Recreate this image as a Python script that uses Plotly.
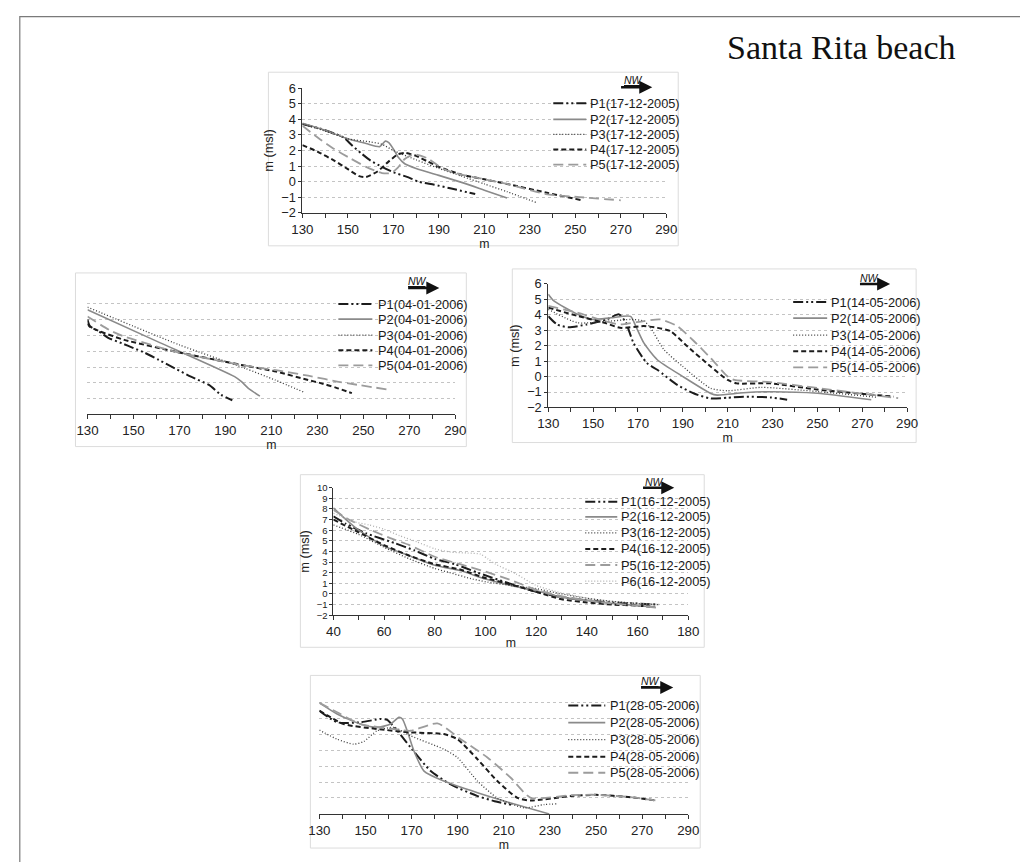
import plotly.graph_objects as go

# ---------------- Panel A: 17-12-2005 ----------------
A_P1_X = [130, 138, 144, 148, 152, 156, 160, 165, 170, 176, 181, 188, 195, 206]
A_P1_Y = [3.7, 3.4, 3.1, 2.85, 2.3, 1.8, 1.35, 0.95, 0.6, 0.3, 0.0, -0.2, -0.43, -0.8]
A_P2_X = [130, 140, 150, 158, 164, 166.5, 168, 170, 172, 175, 180, 190, 200, 210, 220]
A_P2_Y = [3.75, 3.3, 2.75, 2.45, 2.25, 2.6, 2.5, 2.1, 1.6, 1.15, 0.85, 0.4, -0.05, -0.55, -1.05]
A_P3_X = [130, 140, 150, 160, 165, 170, 180, 190, 200, 210, 220, 233]
A_P3_Y = [3.7, 3.25, 2.75, 2.55, 2.4, 2.0, 1.4, 0.85, 0.35, -0.15, -0.65, -1.35]
A_P4_X = [130, 137, 144, 150, 155, 158, 163, 168, 172, 175, 180, 185, 190, 200, 210, 220, 237, 253]
A_P4_Y = [2.35, 1.9, 1.35, 0.8, 0.35, 0.3, 0.65, 1.3, 1.75, 1.85, 1.65, 1.3, 0.95, 0.45, 0.15, -0.15, -0.7, -1.2]
A_P5_X = [130, 137, 144, 151, 158, 165, 169, 172, 175, 179, 185, 192, 200, 210, 220, 237, 252, 270]
A_P5_Y = [3.6, 2.8, 2.1, 1.5, 0.95, 0.55, 0.55, 0.9, 1.45, 1.75, 1.5, 0.8, 0.45, 0.15, -0.15, -0.8, -1.0, -1.2]

# ---------------- Panel B: 04-01-2006 ----------------
B_P1_X = [130, 131, 135, 139, 145, 150, 155, 161, 168, 175, 183, 188, 193]
B_P1_Y = [4.0, 3.6, 3.25, 2.85, 2.5, 2.2, 1.9, 1.45, 0.92, 0.39, -0.15, -0.75, -1.1]
B_P2_X = [130, 160, 194, 197, 200, 205]
B_P2_Y = [4.62, 2.64, 0.39, 0.07, -0.35, -0.84]
B_P3_X = [130, 170, 198.5, 211.6, 224.6]
B_P3_Y = [4.79, 2.4, 0.92, 0.18, -0.62]
B_P4_X = [130, 131, 135.5, 146, 168, 197, 212, 226, 231, 238, 245]
B_P4_Y = [3.74, 3.55, 3.25, 2.72, 1.98, 1.13, 0.71, 0.18, 0.0, -0.3, -0.65]
B_P5_X = [130, 140, 146, 168, 197, 212, 226, 240, 261]
B_P5_Y = [4.2, 3.3, 2.93, 1.98, 1.13, 0.8, 0.45, 0.05, -0.43]

# ---------------- Panel C: 14-05-2006 ----------------
C_P1_X = [130, 134, 139, 147, 156, 161.5, 164.5, 168, 174, 178.6, 187.5, 195, 202.4, 210, 217, 229, 236.5]
C_P1_Y = [3.91, 3.37, 3.2, 3.37, 3.7, 4.03, 3.53, 2.18, 0.87, 0.44, -0.54, -1.1, -1.42, -1.37, -1.31, -1.35, -1.5]
C_P2_X = [130, 132.5, 143, 150, 158, 166.7, 169, 172.6, 178.6, 190, 202.4, 205.3, 217, 229, 250, 274]
C_P2_Y = [5.34, 4.9, 4.04, 3.7, 3.81, 3.9, 3.27, 2.18, 1.09, 0.0, -1.09, -1.2, -1.05, -0.98, -1.08, -1.5]
C_P3_X = [130, 143, 158, 167, 172.6, 175.6, 181.6, 190, 202.4, 210, 225, 250, 277]
C_P3_Y = [4.36, 3.49, 3.6, 3.7, 3.6, 3.16, 1.74, 0.65, -0.76, -0.92, -0.7, -0.97, -1.35]
C_P4_X = [130, 143, 155, 162, 172.6, 178.6, 184.5, 192, 202.4, 210, 214, 229, 250, 284]
C_P4_Y = [4.47, 3.93, 3.49, 3.16, 3.27, 3.16, 2.94, 1.96, 0.65, -0.22, -0.44, -0.44, -0.84, -1.3]
C_P5_X = [130, 143, 155, 162, 172.6, 180, 187.5, 195, 202.4, 210, 213, 229, 250, 286]
C_P5_Y = [4.58, 4.14, 3.6, 3.38, 3.6, 3.7, 3.27, 2.29, 1.2, 0.0, -0.22, -0.36, -0.74, -1.4]

# ---------------- Panel D: 16-12-2005 ----------------
D_P1_X = [40, 45, 53, 64, 72, 80, 88, 97, 108, 120, 130, 140, 150, 160, 168]
D_P1_Y = [7.3, 6.6, 5.7, 4.8, 4.1, 3.3, 2.8, 2.0, 1.1, 0.2, -0.3, -0.6, -0.8, -0.9, -1.0]
D_P2_X = [40, 45, 50, 60, 70, 80, 90, 100, 110, 120, 130, 140, 150, 160, 167]
D_P2_Y = [8.1, 7.0, 6.0, 4.5, 3.6, 2.7, 2.2, 1.4, 0.8, 0.3, -0.3, -0.6, -0.9, -1.1, -1.2]
D_P3_X = [40, 50, 60, 70, 80, 86, 95, 100, 110, 120, 130, 140, 150, 160, 168]
D_P3_Y = [6.5, 5.6, 4.4, 3.3, 2.4, 2.0, 1.4, 1.15, 0.8, 0.5, 0.0, -0.4, -0.7, -0.9, -1.0]
D_P4_X = [40, 50, 60, 70, 80, 90, 100, 110, 120, 130, 140, 150, 160, 165]
D_P4_Y = [7.0, 5.8, 4.6, 3.6, 2.8, 2.3, 1.5, 0.9, 0.2, -0.5, -0.8, -1.0, -1.1, -1.2]
D_P5_X = [40, 47, 55, 62, 70, 80, 90, 100, 110, 120, 130, 140, 150, 160, 168]
D_P5_Y = [7.9, 6.9, 6.0, 5.3, 4.6, 3.5, 2.8, 2.1, 1.3, 0.4, -0.2, -0.6, -0.9, -1.1, -1.3]
D_P6_X = [40, 44, 48, 54, 60, 66, 73, 80, 86, 93, 98, 101, 104, 112, 120, 130, 140, 150, 160, 169]
D_P6_Y = [7.6, 7.2, 6.8, 6.5, 6.1, 5.5, 4.9, 4.25, 3.95, 3.85, 3.75, 3.3, 2.8, 1.9, 0.8, 0.1, -0.4, -0.7, -0.9, -1.0]

# ---------------- Panel E: 28-05-2006 ----------------
E_P1_X = [130, 137.7, 147.8, 156.5, 159.4, 163.8, 169.6, 178.3, 187, 198.6, 206, 214]
E_P1_Y = [4.48, 3.75, 3.75, 3.96, 3.9, 3.22, 2.17, 0.69, -0.15, -0.88, -1.2, -1.45]
E_P2_X = [130, 137.7, 147.8, 155, 160.9, 164.5, 166, 168.1, 171, 175.4, 184, 198.6, 213, 229.7]
E_P2_Y = [4.97, 4.27, 3.64, 3.43, 3.64, 4.06, 3.96, 3.22, 1.96, 0.69, 0.06, -0.67, -1.31, -2.0]
E_P3_X = [130, 137.7, 144.9, 149.3, 155, 162.3, 169.6, 184, 189.9, 198.6, 207.2, 218.8, 227.5, 233.3]
E_P3_Y = [3.26, 2.69, 2.38, 2.55, 3.22, 3.43, 2.9, 2.06, 1.54, 0.06, -1.0, -1.62, -1.41, -1.37]
E_P4_X = [130, 140.6, 155, 169.6, 184, 189.9, 198.6, 207.2, 215.9, 221.7, 239, 250, 265, 276]
E_P4_Y = [4.48, 3.64, 3.33, 3.12, 3.01, 2.69, 1.43, 0.06, -0.99, -1.16, -0.88, -0.8, -0.95, -1.16]
E_P5_X = [130, 137.7, 147.8, 162.3, 169.6, 181.2, 191.3, 202.9, 213, 221.7, 239, 250, 265, 276]
E_P5_Y = [4.97, 4.38, 3.64, 3.33, 3.22, 3.68, 2.69, 1.54, 0.27, -0.99, -0.82, -0.8, -0.95, -1.16]

A_NAMES = ["P1(17-12-2005)", "P2(17-12-2005)", "P3(17-12-2005)", "P4(17-12-2005)", "P5(17-12-2005)"]
B_NAMES = ["P1(04-01-2006)", "P2(04-01-2006)", "P3(04-01-2006)", "P4(04-01-2006)", "P5(04-01-2006)"]
C_NAMES = ["P1(14-05-2006)", "P2(14-05-2006)", "P3(14-05-2006)", "P4(14-05-2006)", "P5(14-05-2006)"]
D_NAMES = ["P1(16-12-2005)", "P2(16-12-2005)", "P3(16-12-2005)", "P4(16-12-2005)", "P5(16-12-2005)", "P6(16-12-2005)"]
E_NAMES = ["P1(28-05-2006)", "P2(28-05-2006)", "P3(28-05-2006)", "P4(28-05-2006)", "P5(28-05-2006)"]

TITLE = "Santa Rita beach"
X_TITLE = "m"
Y_TITLE = "m (msl)"

STYLE = {
    "P1": dict(color="#1c1c1c", width=2.0, dash="10px,3px,2px,3px,2px,3px"),
    "P2": dict(color="#8a8a8a", width=1.6, dash="solid"),
    "P3": dict(color="#3a3a3a", width=1.3, dash="1px,2px"),
    "P4": dict(color="#1c1c1c", width=2.0, dash="5px,3px"),
    "P5": dict(color="#9c9c9c", width=1.8, dash="10px,5px"),
    "P6": dict(color="#b0b0b0", width=1.3, dash="1px,2px"),
}

FONT = "Liberation Sans, Arial, sans-serif"
W, H = 1028, 862
# observed mapping from figure pixels to the photographed picture
SC, BX, BY = 0.979, 18.5, 16.0


def fx(px):
    return ((px - BX) / SC) / W


def fy(py):
    return 1 - ((py - BY) / SC) / H


panels = [
    dict(series=[(A_NAMES[0], A_P1_X, A_P1_Y, "P1"), (A_NAMES[1], A_P2_X, A_P2_Y, "P2"),
                 (A_NAMES[2], A_P3_X, A_P3_Y, "P3"), (A_NAMES[3], A_P4_X, A_P4_Y, "P4"),
                 (A_NAMES[4], A_P5_X, A_P5_Y, "P5")],
         xdom=(302, 666), ydom=(88, 212), xr=(130, 290), yr=(-2, 6), showy=True, yfs=12.8,
         box=(268, 72, 678, 245),
         leg=dict(x0=553, x1=586, xt=588, rows=[103, 119, 134, 149, 164]),
         nw=dict(tx=633, ty=80, x0=620, x1=652, y=87)),
    dict(series=[(B_NAMES[0], B_P1_X, B_P1_Y, "P1"), (B_NAMES[1], B_P2_X, B_P2_Y, "P2"),
                 (B_NAMES[2], B_P3_X, B_P3_Y, "P3"), (B_NAMES[3], B_P4_X, B_P4_Y, "P4"),
                 (B_NAMES[4], B_P5_X, B_P5_Y, "P5")],
         xdom=(87, 455), ydom=(287, 413), xr=(130, 290), yr=(-2, 6), showy=False, yfs=12.8,
         box=(75, 272, 466, 445),
         leg=dict(x0=338, x1=372, xt=376, rows=[303, 318, 334, 349, 364]),
         nw=dict(tx=417, ty=280, x0=407, x1=439, y=287)),
    dict(series=[(C_NAMES[0], C_P1_X, C_P1_Y, "P1"), (C_NAMES[1], C_P2_X, C_P2_Y, "P2"),
                 (C_NAMES[2], C_P3_X, C_P3_Y, "P3"), (C_NAMES[3], C_P4_X, C_P4_Y, "P4"),
                 (C_NAMES[4], C_P5_X, C_P5_Y, "P5")],
         xdom=(548, 907), ydom=(283, 406), xr=(130, 290), yr=(-2, 6), showy=True, yfs=12.8,
         box=(512, 268, 916, 441),
         leg=dict(x0=793, x1=827, xt=829, rows=[301, 317, 334, 350, 366]),
         nw=dict(tx=869, ty=277, x0=859, x1=890, y=283)),
    dict(series=[(D_NAMES[0], D_P1_X, D_P1_Y, "P1"), (D_NAMES[1], D_P2_X, D_P2_Y, "P2"),
                 (D_NAMES[2], D_P3_X, D_P3_Y, "P3"), (D_NAMES[3], D_P4_X, D_P4_Y, "P4"),
                 (D_NAMES[4], D_P5_X, D_P5_Y, "P5"), (D_NAMES[5], D_P6_X, D_P6_Y, "P6")],
         xdom=(333, 688), ydom=(486, 613), xr=(40, 180), yr=(-2, 10), showy=True, yfs=9.5,
         box=(300, 473, 704, 645),
         leg=dict(x0=585, x1=617, xt=619, rows=[500, 515, 531, 547, 563, 579]),
         nw=dict(tx=654, ty=480, x0=642, x1=674, y=486)),
    dict(series=[(E_NAMES[0], E_P1_X, E_P1_Y, "P1"), (E_NAMES[1], E_P2_X, E_P2_Y, "P2"),
                 (E_NAMES[2], E_P3_X, E_P3_Y, "P3"), (E_NAMES[3], E_P4_X, E_P4_Y, "P4"),
                 (E_NAMES[4], E_P5_X, E_P5_Y, "P5")],
         xdom=(319, 688), ydom=(684, 811), xr=(130, 290), yr=(-2, 6), showy=False, yfs=12.8,
         box=(310, 673, 700, 845),
         leg=dict(x0=568, x1=605, xt=608, rows=[703, 720, 737, 754, 770]),
         nw=dict(tx=650, ty=679, x0=640, x1=673, y=685)),
]

fig = go.Figure()
shapes = []
annotations = []

# page frame (drawn along the figure edge)
shapes.append(dict(type="rect", xref="paper", yref="paper", x0=0.0008, x1=fx(1022), y0=-0.1, y1=0.9992,
                   line=dict(color="#7a7a7a", width=1.2), fillcolor="rgba(0,0,0,0)", layer="below"))

for i, p in enumerate(panels, start=1):
    xa = "x" if i == 1 else f"x{i}"
    ya = "y" if i == 1 else f"y{i}"
    xkey = "xaxis" if i == 1 else f"xaxis{i}"
    ykey = "yaxis" if i == 1 else f"yaxis{i}"
    for name, xs, ys, key in p["series"]:
        st = STYLE[key]
        fig.add_trace(go.Scatter(x=xs, y=ys, name=name, mode="lines", xaxis=xa, yaxis=ya,
                                 showlegend=False,
                                 line=dict(color=st["color"], width=st["width"], dash=st["dash"],
                                           shape="spline", smoothing=0.6)))
    x0, x1 = p["xdom"]
    ytop, ybot = p["ydom"]
    fig.update_layout(**{
        xkey: dict(domain=[fx(x0), fx(x1)], range=list(p["xr"]), anchor=ya,
                   tick0=p["xr"][0], dtick=20, ticks="outside", ticklen=4, tickcolor="#333",
                   minor=dict(dtick=10, ticks="outside", ticklen=4, tickcolor="#333"),
                   showline=True, linecolor="#333", linewidth=1, showgrid=False, zeroline=False,
                   tickfont=dict(family=FONT, size=13.3, color="#222"),
                   title=dict(text=X_TITLE, standoff=0, font=dict(family=FONT, size=12.3, color="#222"))),
        ykey: dict(domain=[fy(ybot), fy(ytop)], range=list(p["yr"]), anchor=xa,
                   dtick=1, showgrid=True, gridcolor="#c4c4c4", griddash="dot", gridwidth=1,
                   zeroline=False,
                   showline=p["showy"], linecolor="#333", linewidth=1,
                   ticks="outside" if p["showy"] else "", ticklen=3, tickcolor="#333",
                   showticklabels=p["showy"],
                   tickfont=dict(family=FONT, size=p["yfs"], color="#222"),
                   title=dict(text=Y_TITLE if p["showy"] else "", standoff=4,
                              font=dict(family=FONT, size=12.8, color="#222"))),
    })
    # panel box
    bx0, by0, bx1, by1 = p["box"]
    shapes.append(dict(type="rect", xref="paper", yref="paper", x0=fx(bx0), x1=fx(bx1), y0=fy(by1), y1=fy(by0),
                       line=dict(color="#dcdcdc", width=1), fillcolor="rgba(0,0,0,0)", layer="below"))
    # legend drawn as line samples + text
    lg = p["leg"]
    for (name, _, _, key), row in zip(p["series"], lg["rows"]):
        st = STYLE[key]
        shapes.append(dict(type="line", xref="paper", yref="paper", x0=fx(lg["x0"]), x1=fx(lg["x1"]),
                           y0=fy(row), y1=fy(row),
                           line=dict(color=st["color"], width=st["width"], dash=st["dash"])))
        annotations.append(dict(text=name, xref="paper", yref="paper", x=fx(lg["xt"]), y=fy(row),
                                xanchor="left", yanchor="middle", showarrow=False,
                                font=dict(family=FONT, size=12.8, color="#1a1a1a")))
    # NW arrow
    nw = p["nw"]
    annotations.append(dict(text="<i><u>NW</u></i>", xref="paper", yref="paper", x=fx(nw["tx"]), y=fy(nw["ty"]),
                            xanchor="center", yanchor="middle", showarrow=False,
                            font=dict(family=FONT, size=10.5, color="#111")))
    annotations.append(dict(text="", xref="paper", yref="paper", x=fx(nw["x1"]), y=fy(nw["y"]),
                            ax=-(nw["x1"] - nw["x0"]) / SC, ay=0, axref="pixel", ayref="pixel",
                            showarrow=True, arrowhead=2, arrowsize=1, arrowwidth=2.6, arrowcolor="#111"))

annotations.append(dict(text=TITLE, xref="paper", yref="paper", x=fx(841), y=fy(47),
                        xanchor="center", yanchor="middle", showarrow=False,
                        font=dict(family="Liberation Serif, Times New Roman, serif", size=34, color="#111")))

fig.update_layout(width=W, height=H, margin=dict(l=0, r=0, t=0, b=0),
                  paper_bgcolor="white", plot_bgcolor="white",
                  shapes=shapes, annotations=annotations, showlegend=False)

fig.write_html("out.html")
